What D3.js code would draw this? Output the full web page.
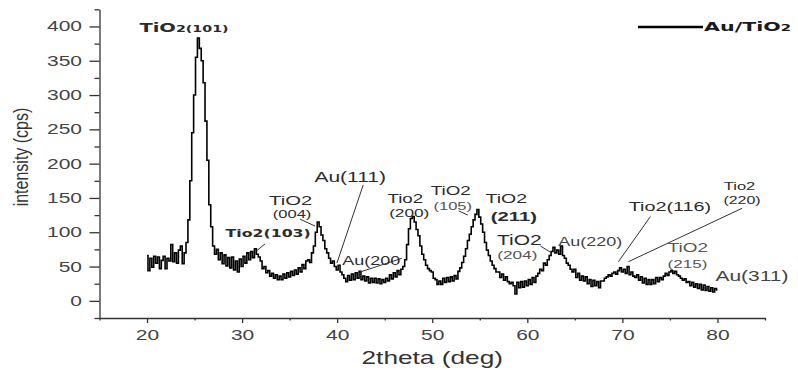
<!DOCTYPE html>
<html>
<head>
<meta charset="utf-8">
<script src="https://cdn.jsdelivr.net/npm/d3@7"></script>
<style>
  body { margin: 0; background: #fff; }
  svg { display: block; }
</style>
</head>
<body>
<svg width="798" height="370"></svg>
<script>
// XRD pattern of Au/TiO2, one value every 0.2 deg from 20 to 80
var twoThetaStart = 20,
    twoThetaStep = 0.2;

var intensityRows = [
    [66, 44, 62, 49, 65],      // 20
    [55, 64, 47, 59, 65],      // 21
    [47, 62, 58, 82, 57],      // 22
    [70, 55, 74, 80, 54],      // 23
    [70, 85, 118, 175, 245],   // 24
    [300, 355, 383, 368, 350], // 25
    [318, 262, 205, 140, 108], // 26
    [80, 68, 75, 60, 70],      // 27
    [54, 67, 51, 63, 48],      // 28
    [64, 45, 58, 42, 61],      // 29
    [50, 65, 55, 70, 60],      // 30
    [72, 63, 76, 68, 64],      // 31
    [58, 47, 50, 41, 44],      // 32
    [36, 40, 33, 38, 31],      // 33
    [36, 31, 39, 33, 41],      // 34
    [35, 43, 37, 45, 39],      // 35
    [48, 42, 53, 47, 58],      // 36
    [60, 56, 70, 80, 100],     // 37
    [115, 108, 96, 88, 76],    // 38
    [70, 62, 55, 58, 50],      // 39
    [45, 52, 42, 38, 33],      // 40
    [28, 37, 30, 39, 31],      // 41
    [41, 33, 43, 31, 36],      // 42
    [29, 35, 26, 33, 27],      // 43
    [33, 26, 32, 25, 31],      // 44
    [27, 33, 29, 38, 32],      // 45
    [41, 35, 44, 38, 46],      // 46
    [50, 60, 82, 105, 120],    // 47
    [123, 115, 104, 95, 80],   // 48
    [68, 60, 52, 47, 44],      // 49
    [42, 33, 31, 24, 29],      // 50
    [24, 33, 27, 34, 28],      // 51
    [35, 29, 37, 32, 43],      // 52
    [48, 56, 65, 76, 88],      // 53
    [97, 108, 118, 126, 133],  // 54
    [122, 112, 100, 85, 74],   // 55
    [66, 58, 52, 47, 42],      // 56
    [42, 34, 39, 30, 35],      // 57
    [28, 25, 27, 22, 10],      // 58
    [27, 19, 28, 20, 29],      // 59
    [22, 31, 24, 34, 27],      // 60
    [36, 40, 46, 44, 55],      // 61
    [52, 60, 66, 72, 78],      // 62
    [70, 74, 68, 80, 66],      // 63
    [62, 55, 52, 46, 42],      // 64
    [46, 34, 40, 30, 36],      // 65
    [29, 35, 25, 31, 21],      // 66
    [30, 22, 28, 19, 29],      // 67
    [29, 33, 35, 38, 36],      // 68
    [40, 42, 39, 44, 48],      // 69
    [42, 46, 40, 50, 38],      // 70
    [42, 36, 34, 38, 30],      // 71
    [35, 26, 33, 24, 31],      // 72
    [24, 31, 25, 34, 28],      // 73
    [34, 31, 36, 40, 37],      // 74
    [42, 44, 40, 43, 38],      // 75
    [36, 33, 30, 32, 27],      // 76
    [28, 22, 27, 20, 25],      // 77
    [18, 24, 16, 23, 15],      // 78
    [21, 14, 19, 13, 18],      // 79
    [16]                       // 80
];

var xTicks = [20, 30, 40, 50, 60, 70, 80];
var yTicks = [0, 50, 100, 150, 200, 250, 300, 350, 400];

var seriesName = "Au/TiO2";

var peakLabels = ["TiO2(101)", "Tio2(103)", "TiO2", "(004)", "Au(111)", "Au(200",
    "Tio2", "(200)", "TiO2", "(105)", "TiO2", "(211)", "TiO2", "(204)",
    "Au(220)", "Tio2(116)", "Tio2", "(220)", "TiO2", "(215)", "Au(311)"];

// where each label sits (2theta, intensity) and how it is drawn
var labelLayout = [
    { t: 23.89, v: 399, size: 13, bold: true, wide: true, split: 3, small: 9.5 },
    { t: 32.74, v: 99, size: 10.5, bold: true, wide: true },
    { t: 35.1, v: 147, size: 13.5 },
    { t: 35.26, v: 127, size: 11 },
    { t: 41.37, v: 180, size: 14 },
    { t: 43.58, v: 58, size: 12 },
    { t: 47.16, v: 149, size: 12.5 },
    { t: 47.58, v: 128, size: 11.5 },
    { t: 51.95, v: 161, size: 12.5 },
    { t: 52.16, v: 138, size: 11, fill: "#555" },
    { t: 57.79, v: 149, size: 13 },
    { t: 58.58, v: 123, size: 13.5, bold: true },
    { t: 59.16, v: 88, size: 14 },
    { t: 58.95, v: 67, size: 11.5, fill: "#555" },
    { t: 66.63, v: 86, size: 12, fill: "#444" },
    { t: 75.0, v: 137, size: 13.2 },
    { t: 82.32, v: 167, size: 11 },
    { t: 82.58, v: 146, size: 10.6 },
    { t: 76.89, v: 77, size: 12.6, fill: "#555" },
    { t: 76.84, v: 54, size: 11.4, fill: "#555" },
    { t: 83.63, v: 36, size: 14, fill: "#444" }
];

// leader lines from label to peak: [t1, v1, t2, v2]
var leaderLayout = [
    [31.53, 73, 32.41, 83],
    [36.1, 119, 37.68, 109],
    [42.74, 169, 39.97, 55],
    [46.8, 62, 42.4, 42],
    [52.79, 131, 53.74, 125],
    [61.37, 80, 62.42, 71],
    [72.95, 123, 69.58, 57],
    [82.6, 135, 70.63, 57]
];

var intensity = intensityRows.flat();
var points = intensity.map(function (v, i) {
    return { t: twoThetaStart + i * twoThetaStep, v: v };
});

var svg = d3.select("svg");
var sx = 1.5; // the source image is stretched sideways

var x = d3.scaleLinear().domain([15, 85]).range([99.5, 765]);
var y = d3.scaleLinear().domain([-25, 425]).range([318, 9.3]);

var axisColor = "#333",
    textColor = "#444",
    sans = "'Liberation Sans', Arial, sans-serif",
    wide = "'DejaVu Sans', Verdana, sans-serif";

// x axis
var xAxis = svg.append("g")
    .attr("transform", "translate(0," + y(-25) + ")")
    .call(d3.axisBottom(x).tickValues(xTicks).tickSize(5).tickSizeOuter(0).tickPadding(7));
var xMinor = svg.append("g")
    .attr("transform", "translate(0," + y(-25) + ")")
    .call(d3.axisBottom(x).tickValues([15, 25, 35, 45, 55, 65, 75, 85]).tickSize(2.5).tickSizeOuter(0).tickFormat(""));
xMinor.select(".domain").remove();

// y axis
var yAxis = svg.append("g")
    .attr("transform", "translate(" + x(15) + ",0)")
    .call(d3.axisLeft(y).tickValues(yTicks).tickSize(10).tickSizeOuter(0).tickPadding(7.5));
var yMinor = svg.append("g")
    .attr("transform", "translate(" + x(15) + ",0)")
    .call(d3.axisLeft(y).tickValues([-25, 25, 75, 125, 175, 225, 275, 325, 375, 425]).tickSize(5).tickSizeOuter(0).tickFormat(""));
yMinor.select(".domain").remove();

svg.selectAll(".domain, .tick line")
    .attr("stroke", axisColor)
    .attr("stroke-width", 1.3);

xAxis.selectAll(".tick text")
    .attr("font-family", sans)
    .attr("font-size", 14)
    .attr("fill", textColor)
    .attr("transform", function () {
        var ty = +d3.select(this).attr("y");
        return "translate(0," + ty + ") scale(" + sx + ",1)";
    })
    .attr("y", 0);

yAxis.selectAll(".tick text")
    .attr("font-family", sans)
    .attr("font-size", 14)
    .attr("fill", textColor)
    .attr("transform", function () {
        var tx = +d3.select(this).attr("x");
        return "translate(" + tx + ",0) scale(" + sx + ",1)";
    })
    .attr("x", 0);

// axis titles
svg.append("text")
    .attr("transform", "translate(" + ((x.range()[0] + x.range()[1]) / 2) + ",364) scale(" + sx + ",1)")
    .attr("text-anchor", "middle")
    .attr("font-family", sans)
    .attr("font-size", 17.5)
    .attr("fill", "#333")
    .text("2theta (deg)");

svg.append("text")
    .attr("transform", "translate(28,157) scale(1.3,1) rotate(-90)")
    .attr("text-anchor", "middle")
    .attr("font-family", sans)
    .attr("font-size", 16)
    .attr("fill", "#333")
    .text("intensity (cps)");

// the pattern
var line = d3.line()
    .x(function (d) { return x(d.t); })
    .y(function (d) { return y(d.v); })
    .curve(d3.curveStep);

svg.append("path")
    .datum(points)
    .attr("fill", "none")
    .attr("stroke", "#000")
    .attr("stroke-width", 1.6)
    .attr("stroke-linejoin", "miter")
    .attr("d", line);

// leader lines
svg.append("g").selectAll("line")
    .data(leaderLayout)
    .enter().append("line")
    .attr("x1", function (d) { return x(d[0]); })
    .attr("y1", function (d) { return y(d[1]); })
    .attr("x2", function (d) { return x(d[2]); })
    .attr("y2", function (d) { return y(d[3]); })
    .attr("stroke", "#333")
    .attr("stroke-width", 1);

// peak labels
var labels = svg.append("g").selectAll("text")
    .data(peakLabels)
    .enter().append("text")
    .attr("transform", function (d, i) {
        var L = labelLayout[i];
        return "translate(" + x(L.t) + "," + y(L.v) + ") scale(" + sx + ",1)";
    })
    .attr("dy", "0.35em")
    .attr("text-anchor", "middle")
    .attr("font-family", function (d, i) { return labelLayout[i].wide ? wide : sans; })
    .attr("font-weight", function (d, i) { return labelLayout[i].bold ? "bold" : "normal"; })
    .attr("font-size", function (d, i) { return labelLayout[i].size; })
    .attr("fill", function (d, i) { return labelLayout[i].fill || "#2b2b2b"; });

labels.each(function (d, i) {
    var L = labelLayout[i], el = d3.select(this);
    if (L.split) {
        el.append("tspan").text(d.slice(0, L.split));
        el.append("tspan").attr("font-size", L.small).text(d.slice(L.split));
    } else {
        el.text(d);
    }
});

// legend
svg.append("line")
    .attr("x1", 638).attr("x2", 703)
    .attr("y1", 27).attr("y2", 27)
    .attr("stroke", "#000")
    .attr("stroke-width", 2.5);

var legendText = svg.append("text")
    .attr("transform", "translate(704,27) scale(1.65,1)")
    .attr("dy", "0.35em")
    .attr("font-family", wide)
    .attr("font-weight", "bold")
    .attr("font-size", 12.5)
    .attr("fill", "#1a1a1a");
legendText.append("tspan").text(seriesName.slice(0, 6));
legendText.append("tspan").attr("font-size", 9).text(seriesName.slice(6));
</script>
</body>
</html>
